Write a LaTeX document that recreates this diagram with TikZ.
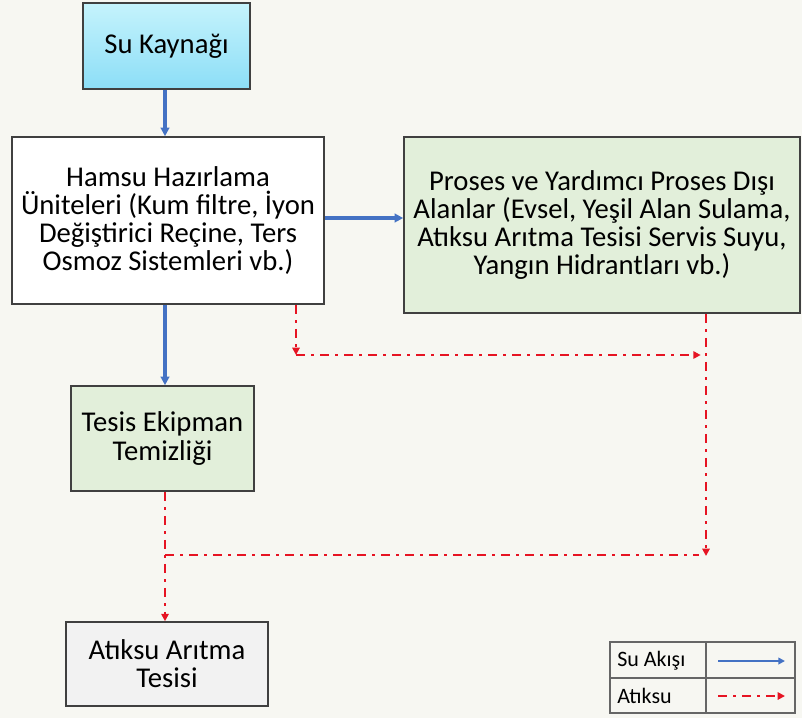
\documentclass[tikz,border=0pt]{standalone}
\usepackage{fontspec}
\setmainfont{Carlito}
\usetikzlibrary{arrows.meta}

\definecolor{zemin}{RGB}{247,247,242}
\definecolor{cerceve}{RGB}{64,64,64}
\definecolor{akis}{RGB}{68,114,196}
\definecolor{atik}{RGB}{230,20,35}
\definecolor{yesil}{RGB}{226,239,218}
\definecolor{gri}{RGB}{242,242,242}

\begin{document}
\begin{tikzpicture}[x=0.75pt,y=0.75pt,yscale=-1,xscale=1,
	kutu/.style={draw=cerceve,line width=1.2pt,align=center,inner sep=0pt,
		font=\fontsize{21.5}{21.2}\selectfont},
	akisok/.style={draw=akis,line width=2.6pt,-{Triangle[length=6.5pt,width=6.5pt]}},
	atikok/.style={draw=atik,line width=2pt,
		dash pattern=on 7pt off 4.5pt on 2pt off 4.5pt,
		-{Triangle[length=5.5pt,width=5.5pt]}},
	atikcizgi/.style={draw=atik,line width=2pt,
		dash pattern=on 7pt off 4.5pt on 2pt off 4.5pt}]
	\fill[zemin] (0,0) rectangle (802,718);
	\useasboundingbox (0,0) rectangle (802,718);
	% kutular
	\node[kutu,top color={rgb,255:red,197;green,243;blue,252},bottom color={rgb,255:red,140;green,222;blue,247},
		minimum width=125.25pt,minimum height=64.5pt] (kaynak) at (166.5,46) {Su Kaynağı};
	\node[kutu,fill=white,minimum width=234pt,minimum height=125.25pt] (hamsu) at (168,220.5)
		{Hamsu Hazırlama\\Üniteleri (Kum filtre, İyon\\Değiştirici Reçine, Ters\\Osmoz Sistemleri vb.)};
	\node[kutu,fill=yesil,minimum width=297pt,minimum height=132pt] (disi) at (602,225)
		{Proses ve Yardımcı Proses Dışı\\Alanlar (Evsel, Yeşil Alan Sulama,\\Atıksu Arıtma Tesisi Servis Suyu,\\Yangın Hidrantları vb.)};
	\node[kutu,fill=yesil,minimum width=137.25pt,minimum height=78.75pt] (ekipman) at (162.5,438.5)
		{Tesis Ekipman\\Temizliği};
	\node[kutu,fill=gri,minimum width=151.5pt,minimum height=63pt] (aritma) at (167,664)
		{Atıksu Arıtma\\Tesisi};
	% ara noktalar
	\coordinate (k1) at (296,355);
	\coordinate (k2) at (706,556);
	\coordinate (k3) at (165,555);
	% su akisi
	\draw[akisok] (kaynak.south -| k3) -- (hamsu.north -| k3);
	\draw[akisok] (hamsu.east |- 0,218) -- (disi.west |- 0,218);
	\draw[akisok] (hamsu.south -| k3) -- (ekipman.north -| k3);
	% atiksu
	\draw[atikok] (hamsu.south -| k1) -- (k1);
	\draw[atikok,shorten >=4pt] (k1) -- (k1 -| k2);
	\draw[atikok] (disi.south -| k2) -- (k2);
	\draw[atikcizgi,shorten >=5pt] (k3) -- (k3 -| k2);
	\draw[atikok] (ekipman.south -| k3) -- (aritma.north -| k3);
	% lejant
	\node[draw=cerceve!80,line width=1pt,minimum width=138.75pt,minimum height=53.25pt,inner sep=0pt] (lejant) at (702.5,677.5) {};
	\draw[cerceve!80,line width=1pt] (lejant.west |- 0,678) -- (lejant.east |- 0,678);
	\draw[cerceve!80,line width=1pt] (lejant.north -| 706,0) -- (lejant.south -| 706,0);
	\node[anchor=west,font=\fontsize{16.5}{17}\selectfont,inner sep=0pt] (sulabel) at (617,661) {Su Akışı};
	\node[anchor=west,font=\fontsize{16.5}{17}\selectfont,inner sep=0pt] (atiklabel) at (617,696) {Atıksu};
	\coordinate (l1) at (785,661);
	\coordinate (l2) at (785,696);
	\draw[akisok,line width=1.7pt,-{Triangle[length=5pt,width=5pt]}] (718,661) -- (l1);
	\draw[atikok,line width=1.6pt] (718,696) -- (l2);
\end{tikzpicture}
\end{document}
